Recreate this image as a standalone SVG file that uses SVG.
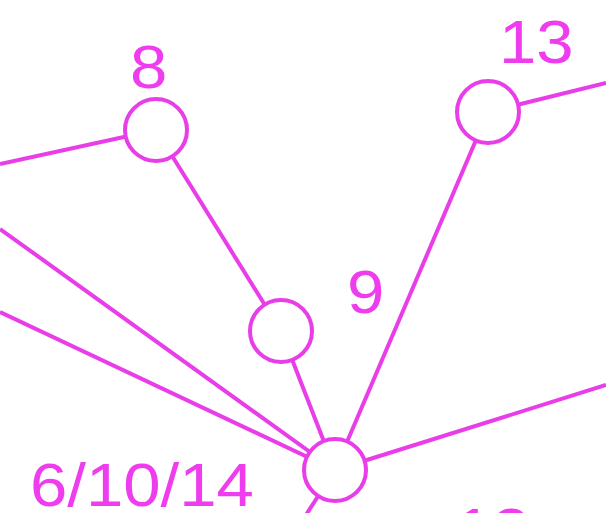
<svg xmlns="http://www.w3.org/2000/svg" width="606" height="513" viewBox="0 0 606 513">
<style>
.e{stroke:#e83de8;stroke-width:4;fill:none}
.n{stroke:#e83de8;stroke-width:4;fill:#fff}
.t{font-family:"Liberation Sans",Arial,sans-serif;font-size:61px;fill:#ee3cee}
</style>
<rect width="606" height="513" fill="#fff"/>
<g id="connectors">
<line class="e" x1="0" y1="164" x2="156" y2="130"/>
<line class="e" x1="156" y1="130" x2="281" y2="331"/>
<line class="e" x1="281" y1="331" x2="335" y2="470"/>
<line class="e" x1="488" y1="112" x2="335" y2="470"/>
<line class="e" x1="488" y1="112" x2="606" y2="83"/>
<line class="e" x1="0" y1="229" x2="335" y2="470"/>
<line class="e" x1="0" y1="312" x2="335" y2="470"/>
<line class="e" x1="335" y1="470" x2="606" y2="385"/>
<line class="e" x1="335" y1="470" x2="293" y2="535"/>
</g>
<g id="node8">
<circle class="n" cx="156" cy="130" r="31"/>
<text class="t" transform="translate(130,88) scale(1.1,1)">8</text>
</g>
<g id="node13">
<circle class="n" cx="488" cy="112" r="31"/>
<text class="t" transform="translate(499,63) scale(1.1,1)">13</text>
</g>
<g id="node9">
<circle class="n" cx="281" cy="331" r="31"/>
<text class="t" transform="translate(347,313) scale(1.1,1)">9</text>
</g>
<g id="node6_10_14">
<circle class="n" cx="335" cy="470" r="31"/>
<text class="t" transform="translate(30,506) scale(1.1,1)">6/10/14</text>
</g>
<g id="node12">
<text class="t" transform="translate(455,551) scale(1.1,1)">12</text>
</g>
</svg>
